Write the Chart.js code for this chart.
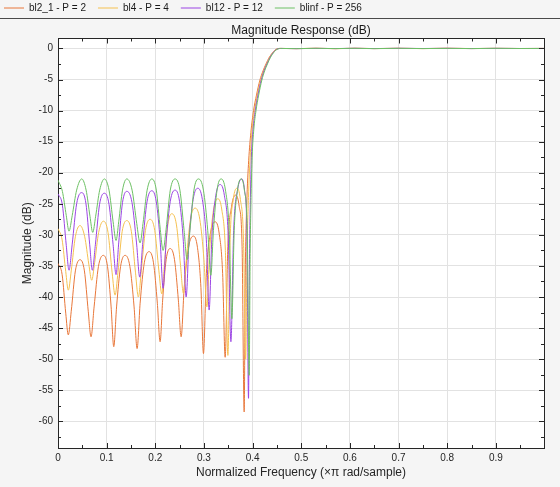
<!DOCTYPE html>
<html>
<head>
<meta charset="utf-8">
<script src="https://cdn.jsdelivr.net/npm/chart.js"></script>
<style>
  html, body { margin: 0; padding: 0; background: #f5f5f5; }
  #wrap { width: 560px; height: 487px; position: relative; }
</style>
</head>
<body>
<div id="wrap"><canvas id="magChart"></canvas></div>
<script>
// legend labels, one per filter
const seriesNames = ['bl2_1 - P = 2', 'bl4 - P = 4', 'bl12 - P = 12', 'blinf - P = 256'];
const seriesColors = ['#e8773a', '#f5c151', '#9b45e4', '#6dc064'];

// normalized frequency (x pi rad/sample) and magnitude (dB)
const bl2Freq = [0, 0.0085, 0.0159, 0.0212, 0.0272, 0.0357, 0.0453, 0.0543, 0.0622, 0.0679, 0.0742, 0.0831, 0.0932,
  0.1018, 0.1092, 0.1146, 0.1204, 0.1286, 0.1379, 0.1478, 0.1564, 0.1626, 0.1688, 0.1774, 0.1872, 0.1963, 0.2042,
  0.2099, 0.2151, 0.2223, 0.2305, 0.2395, 0.2474, 0.2531, 0.2594, 0.2683, 0.2784, 0.2866, 0.2938, 0.2990, 0.3050,
  0.3134, 0.3230, 0.3312, 0.3384, 0.3436, 0.3491, 0.3568, 0.3656, 0.3724, 0.3784, 0.3827, 0.3850, 0.3880, 0.3920,
  0.3965, 0.4020, 0.4080, 0.4150, 0.4215, 0.4275, 0.4345, 0.4410, 0.4455, 0.4510, 0.4570,
  0.49, 0.53, 0.57, 0.61, 0.65, 0.70, 0.75, 0.80, 0.85, 0.90, 0.95, 0.999];
const bl2Mag = [-34.6, -36.4, -42.6, -46.1, -42.3, -35.8, -34.0, -35.8, -42.3, -46.4, -41.6, -35.1, -33.3,
  -35.1, -41.6, -48.0, -41.6, -35.1, -33.3, -35.1, -41.6, -48.3, -41.0, -34.5, -32.7, -34.5, -41.0,
  -47.2, -40.5, -34.0, -32.2, -34.0, -40.5, -46.4, -38.5, -32.0, -30.2, -32.0, -38.5, -49.1, -36.2,
  -29.7, -27.9, -29.7, -36.2, -49.7, -31.9, -25.4, -23.6, -25.4, -31.9, -58.5, -36, -25, -18,
  -13.5, -10, -7.5, -5.1, -3.6, -2.5, -1.4, -0.7, -0.3, -0.05, 0,
  -0.03, 0.02, -0.03, 0.02, -0.02, 0.02, -0.02, 0.02, -0.02, 0.01, -0.01, 0];

const bl4Freq = [0, 0.0085, 0.0159, 0.0212, 0.0272, 0.0357, 0.0453, 0.0549, 0.0633, 0.0693, 0.0753, 0.0836, 0.0932,
  0.1028, 0.1113, 0.1173, 0.1233, 0.1318, 0.1414, 0.1509, 0.1592, 0.1652, 0.1712, 0.1797, 0.1893, 0.1989, 0.2074,
  0.2134, 0.2186, 0.2258, 0.2340, 0.2435, 0.2518, 0.2578, 0.2638, 0.2723, 0.2819, 0.2915, 0.3000, 0.3060, 0.3117,
  0.3196, 0.3286, 0.3368, 0.3440, 0.3492, 0.3538, 0.3603, 0.3677, 0.3749, 0.3813, 0.3858, 0.3885, 0.3915, 0.3950,
  0.3990, 0.4040, 0.4095, 0.4165, 0.4225, 0.4285, 0.4350, 0.4415, 0.4460, 0.4515, 0.4575,
  0.49, 0.53, 0.57, 0.61, 0.65, 0.70, 0.75, 0.80, 0.85, 0.90, 0.95, 0.999];
const bl4Mag = [-29.0, -30.8, -35.9, -38.9, -35.8, -30.3, -28.5, -30.3, -34.7, -37.3, -34.5, -29.6, -27.8,
  -29.6, -36.1, -39.7, -36.0, -29.5, -27.7, -29.5, -36.0, -40.0, -35.8, -29.3, -27.5, -29.3, -35.8,
  -39.5, -34.9, -28.4, -26.6, -28.4, -34.9, -39.4, -34.0, -27.5, -25.7, -27.5, -34.0, -41.6, -32.5,
  -26.0, -24.2, -26.0, -32.5, -49.4, -30.8, -24.3, -22.5, -24.3, -30.8, -50.0, -33, -24, -17.5,
  -13, -10, -7.5, -5.1, -3.6, -2.5, -1.4, -0.7, -0.3, -0.05, 0,
  -0.02, 0.02, -0.03, 0.02, -0.02, 0.01, -0.02, 0.02, -0.01, 0.01, -0.01, 0];

const bl12Freq = [0, 0.0090, 0.0170, 0.0226, 0.0292, 0.0383, 0.0488, 0.0575, 0.0651, 0.0706, 0.0768, 0.0854, 0.0953,
  0.1049, 0.1133, 0.1193, 0.1248, 0.1326, 0.1414, 0.1521, 0.1614, 0.1681, 0.1743, 0.1829, 0.1928, 0.2021, 0.2102,
  0.2160, 0.2222, 0.2308, 0.2407, 0.2498, 0.2577, 0.2634, 0.2694, 0.2778, 0.2874, 0.2967, 0.3049, 0.3107, 0.3164,
  0.3243, 0.3333, 0.3421, 0.3499, 0.3554, 0.3611, 0.3690, 0.3780, 0.3834, 0.3882, 0.3916, 0.3935, 0.3955, 0.3975,
  0.4010, 0.4055, 0.4110, 0.4177, 0.4235, 0.4294, 0.4360, 0.4420, 0.4465, 0.4520, 0.4580,
  0.49, 0.53, 0.57, 0.61, 0.65, 0.70, 0.75, 0.80, 0.85, 0.90, 0.95, 0.999];
const bl12Mag = [-23.4, -25.2, -31.7, -35.7, -31.5, -25.0, -23.2, -25.0, -31.5, -35.7, -31.6, -25.1, -23.3,
  -25.1, -31.6, -36.4, -31.3, -24.8, -23.0, -24.8, -31.3, -36.8, -31.2, -24.7, -22.9, -24.7, -31.2,
  -38.6, -31.1, -24.6, -22.8, -24.6, -31.1, -40.0, -30.8, -24.3, -22.5, -24.3, -30.8, -42.1, -30.2,
  -23.7, -21.9, -23.7, -30.2, -47.2, -29.3, -22.8, -21.0, -22.8, -29.3, -56.3, -35, -24, -17.5,
  -13, -10, -7.5, -5.1, -3.6, -2.5, -1.4, -0.7, -0.3, -0.05, 0,
  -0.03, 0.01, -0.02, 0.02, -0.02, 0.02, -0.01, 0.02, -0.02, 0.01, -0.01, 0];

const blinfFreq = [0, 0.0090, 0.0170, 0.0226, 0.0292, 0.0383, 0.0488, 0.0578, 0.0657, 0.0714, 0.0774, 0.0857, 0.0953,
  0.1049, 0.1133, 0.1193, 0.1248, 0.1326, 0.1414, 0.1523, 0.1619, 0.1687, 0.1747, 0.1832, 0.1928, 0.2021, 0.2102,
  0.2160, 0.2222, 0.2308, 0.2407, 0.2506, 0.2592, 0.2654, 0.2712, 0.2794, 0.2887, 0.2989, 0.3078, 0.3142, 0.3195,
  0.3269, 0.3354, 0.3442, 0.3519, 0.3574, 0.3622, 0.3689, 0.3765, 0.3831, 0.3889, 0.3930, 0.3950, 0.3970, 0.3990,
  0.4025, 0.4070, 0.4125, 0.4190, 0.4248, 0.4305, 0.4370, 0.4430, 0.4475, 0.4530, 0.4590,
  0.49, 0.53, 0.57, 0.61, 0.65, 0.70, 0.75, 0.80, 0.85, 0.90, 0.95, 0.999];
const blinfMag = [-21.2, -23.0, -26.9, -29.4, -26.9, -22.8, -21.0, -22.8, -27.0, -29.6, -27.0, -22.8, -21.0,
  -22.8, -27.9, -30.9, -27.9, -22.8, -21.0, -22.8, -28.2, -31.3, -28.2, -22.8, -21.0, -22.8, -29.1,
  -32.5, -29.1, -22.8, -21.0, -22.8, -29.3, -34.0, -29.3, -22.8, -21.0, -22.8, -29.3, -36.5, -29.3,
  -22.8, -21.0, -22.8, -29.3, -43.5, -29.3, -22.8, -21.0, -22.8, -29.3, -52.6, -33, -23.5, -17.5,
  -13, -10, -7.5, -5.1, -3.6, -2.5, -1.4, -0.7, -0.3, -0.05, 0,
  -0.03, 0.02, -0.02, 0.02, -0.03, 0.02, -0.02, 0.01, -0.02, 0.02, -0.01, 0];

// axis ranges and tick steps
const freqRange = [0, 0.999];
const magRange = [-64.3, 1.6];
const freqStep = 0.1;
const magStep = 5;

const toPoints = (xs, ys) => xs.map((x, i) => ({ x: x, y: ys[i] }));
const seriesPoints = [
  toPoints(bl2Freq, bl2Mag),
  toPoints(bl4Freq, bl4Mag),
  toPoints(bl12Freq, bl12Mag),
  toPoints(blinfFreq, blinfMag),
];

Chart.defaults.font.family = "'Liberation Sans', Arial, Helvetica, sans-serif";
Chart.defaults.color = '#262626';

// grey page, white axes box, divider under the legend, inward tick marks
const frameTicks = {
  id: 'frameTicks',
  beforeDraw(chart) {
    const { ctx, chartArea: a, width, height } = chart;
    ctx.save();
    ctx.fillStyle = '#f5f5f5';
    ctx.fillRect(0, 0, width, height);
    ctx.fillStyle = '#ffffff';
    ctx.fillRect(a.left, a.top, a.right - a.left, a.bottom - a.top);
    const y = Math.round(chart.legend.bottom) + 0.5;
    ctx.strokeStyle = '#4a4a4a';
    ctx.lineWidth = 1;
    ctx.beginPath();
    ctx.moveTo(0, y);
    ctx.lineTo(width, y);
    ctx.stroke();
    ctx.restore();
  },
  afterDraw(chart) {
    const { ctx, chartArea: a, scales } = chart;
    const xs = scales.x, ys = scales.y;
    ctx.save();
    ctx.strokeStyle = '#262626';
    ctx.lineWidth = 1;
    ctx.beginPath();
    const xTick = (v, len) => {
      if (v < xs.min || v > xs.max) return;
      const px = Math.round(xs.getPixelForValue(v)) + 0.5;
      ctx.moveTo(px, a.bottom); ctx.lineTo(px, a.bottom - len);
      ctx.moveTo(px, a.top); ctx.lineTo(px, a.top + len);
    };
    const yTick = (v, len) => {
      if (v < ys.min || v > ys.max) return;
      const py = Math.round(ys.getPixelForValue(v)) + 0.5;
      ctx.moveTo(a.left, py); ctx.lineTo(a.left + len, py);
      ctx.moveTo(a.right, py); ctx.lineTo(a.right - len, py);
    };
    xs.ticks.forEach(t => { xTick(t.value, 5); xTick(t.value + freqStep / 2, 3); });
    ys.ticks.forEach(t => { yTick(t.value, 5); yTick(t.value - magStep / 2, 3); });
    ctx.stroke();
    ctx.restore();
  }
};

const gridColor = '#e2e2e2';
const axisColor = '#262626';

new Chart(document.getElementById('magChart'), {
  type: 'line',
  data: {
    datasets: seriesNames.map((name, i) => ({
      label: name,
      data: seriesPoints[i],
      borderColor: seriesColors[i],
      backgroundColor: seriesColors[i],
      borderWidth: 1,
      pointRadius: 0,
      fill: false,
      cubicInterpolationMode: 'monotone',
      order: seriesNames.length - i,
    })),
  },
  options: {
    responsive: true,
    maintainAspectRatio: false,
    animation: false,
    events: [],
    layout: { padding: { left: -8, top: -9, right: 0, bottom: 0 } },
    plugins: {
      tooltip: { enabled: false },
      legend: {
        position: 'top',
        align: 'start',
        maxHeight: 27,
        labels: {
          usePointStyle: true,
          pointStyle: 'line',
          pointStyleWidth: 20,
          padding: 12,
          color: '#1a1a1a',
          font: { size: 10 },
          sort: (a, b) => a.datasetIndex - b.datasetIndex,
        },
      },
    },
    scales: {
      x: {
        type: 'linear',
        position: 'bottom',
        min: freqRange[0],
        max: freqRange[1],
        afterFit: (scale) => { scale.height = 39; },
        ticks: { stepSize: freqStep, includeBounds: false, maxTicksLimit: 20, padding: 4, font: { size: 10 }, color: axisColor },
        grid: { color: gridColor, drawTicks: false },
        border: { color: axisColor, width: 1 },
        title: {
          display: true,
          text: 'Normalized Frequency (×π rad/sample)',
          font: { size: 12 },
          color: axisColor,
          padding: { top: 0, bottom: 7 },
        },
      },
      x2: {
        type: 'linear',
        position: 'top',
        min: freqRange[0],
        max: freqRange[1],
        afterFit: (scale) => { scale.height = 20.5; },
        ticks: { display: false },
        grid: { display: false },
        border: { color: axisColor, width: 1 },
        title: {
          display: true,
          text: 'Magnitude Response (dB)',
          font: { size: 12 },
          color: '#1a1a1a',
          padding: { top: 5, bottom: 0 },
        },
      },
      y: {
        type: 'linear',
        position: 'left',
        min: magRange[0],
        max: magRange[1],
        afterFit: (scale) => { scale.width = 66; },
        ticks: { stepSize: magStep, includeBounds: false, maxTicksLimit: 20, padding: 5, font: { size: 10 }, color: axisColor },
        grid: { color: gridColor, drawTicks: false },
        border: { color: axisColor, width: 1 },
        title: {
          display: true,
          text: 'Magnitude (dB)',
          font: { size: 12 },
          color: axisColor,
          padding: { top: 28, bottom: 0 },
        },
      },
      y2: {
        type: 'linear',
        position: 'right',
        min: magRange[0],
        max: magRange[1],
        afterFit: (scale) => { scale.width = 16; },
        ticks: { display: false },
        grid: { display: false },
        border: { color: axisColor, width: 1 },
      },
    },
  },
  plugins: [frameTicks],
});
</script>
</body>
</html>
